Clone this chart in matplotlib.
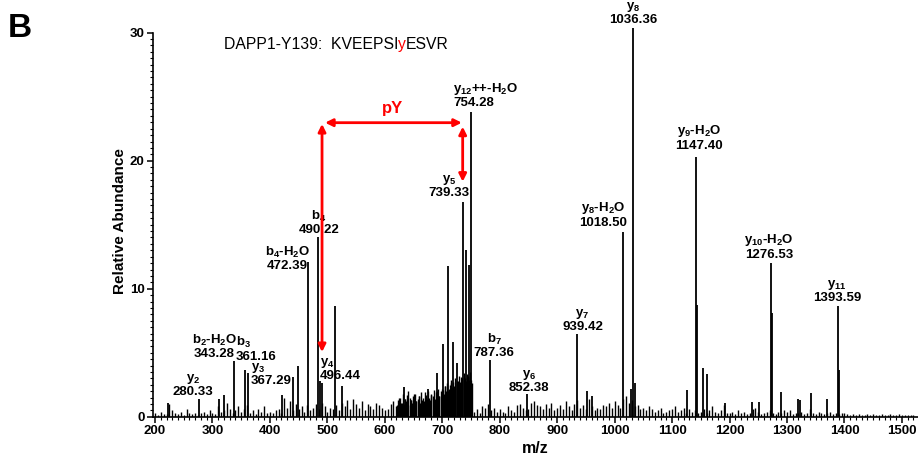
import numpy as np
import matplotlib
matplotlib.use('Agg')
import matplotlib.pyplot as plt
import matplotlib.ticker as ticker

plt.rcParams['font.family'] = ['Liberation Sans', 'DejaVu Sans']
plt.rcParams['mathtext.fontset'] = 'custom'
plt.rcParams['mathtext.rm'] = 'Liberation Sans:bold'
plt.rcParams['mathtext.bf'] = 'Liberation Sans:bold'
plt.rcParams['mathtext.it'] = 'Liberation Sans:bold'

# main fragment peaks (m/z, relative abundance)
peak_mz = [222.0, 276.0, 311.0, 320.7, 338.0, 356.7, 362.5, 421.7, 440.0, 449.0,
           467.0, 484.4, 486.5, 490.0, 513.0, 525.0, 634.0, 674.8, 691.0, 701.0,
           709.6, 717.8, 726.0, 735.5, 741.0, 747.0, 749.8, 783.0, 848.0, 935.0,
           952.6, 960.0, 1014.0, 1029.0, 1032.5, 1035.0, 1125.6, 1142.0, 1143.5, 1154.5,
           1161.5, 1192.0, 1239.0, 1252.0, 1272.0, 1273.5, 1290.0, 1319.0, 1323.0, 1342.0,
           1369.0, 1388.0, 1390.0]
peak_int = [1.07, 1.36, 1.36, 1.7, 4.35, 3.65, 3.4, 1.7, 3.1, 4.0,
            12.06, 14.0, 2.8, 2.6, 8.67, 2.4, 2.3, 2.2, 3.44, 5.7,
            11.8, 5.8, 4.2, 16.8, 13.0, 11.85, 23.8, 4.43, 1.75, 6.44,
            2.03, 1.6, 14.45, 2.2, 30.4, 2.6, 2.1, 20.3, 8.7, 3.8,
            3.3, 1.07, 1.17, 1.17, 12.0, 8.1, 1.95, 1.36, 1.3, 1.83,
            1.36, 8.65, 3.65]

# baseline noise, one value every 5 m/z from 200
noise_int = [
    0.3, 0.1, 0.4, 0.2, 0.2, 1.0, 0.5, 0.3, 0.2, 0.4, 0.1, 0.6, 0.3, 0.2, 0.3, 0.1, 0.3, 0.4, 0.2, 0.5,
    0.3, 0.2, 0.8, 0.4, 0.5, 1.1, 0.6, 0.3, 0.5, 0.8, 0.4, 0.6, 0.9, 0.3, 0.5, 0.2, 0.6, 0.4, 0.8, 0.3,
    0.4, 0.3, 0.5, 0.6, 0.3, 1.5, 0.7, 1.2, 0.5, 1.0, 0.6, 0.8, 0.4, 0.9, 0.5, 0.7, 1.0, 0.6, 1.1, 0.8,
    0.4, 0.7, 0.6, 0.9, 0.5, 1.1, 0.8, 1.3, 0.6, 1.4, 1.0, 0.7, 1.2, 0.5, 1.0, 0.8, 0.6, 1.1, 0.9, 0.7,
    0.5, 0.6, 1.0, 1.2, 0.8, 1.5, 1.1, 1.4, 2.0, 1.3, 1.8, 1.2, 1.6, 1.0, 1.9, 1.4, 1.7, 1.3, 2.0, 1.6,
    2.2, 2.4, 2.0, 2.6, 2.3, 2.8, 2.5, 3.0, 2.7, 3.2, 2.9, 0.4, 0.6, 0.3, 0.8, 0.7, 1.0, 0.5, 0.7, 0.4,
    0.6, 0.4, 0.3, 0.8, 0.5, 0.4, 0.9, 1.0, 0.7, 0.5, 0.6, 1.1, 1.2, 0.9, 0.8, 0.6, 1.0, 0.7, 1.1, 0.5,
    0.7, 0.9, 0.6, 1.2, 0.8, 0.5, 1.0, 1.3, 0.7, 0.9, 0.6, 1.4, 0.8, 0.5, 0.7, 0.6, 0.9, 0.8, 1.1, 0.7,
    1.2, 0.9, 0.7, 1.4, 1.6, 1.1, 1.3, 0.8, 0.9, 0.6, 0.7, 0.5, 0.8, 0.6, 0.4, 0.5, 0.7, 0.3, 0.4, 0.5,
    0.6, 0.8, 0.4, 0.5, 0.7, 0.3, 0.6, 0.4, 0.5, 0.3, 0.4, 0.6, 0.3, 0.5, 0.8, 0.4, 0.3, 0.5, 0.9, 0.3,
    0.3, 0.4, 0.2, 0.5, 0.3, 0.4, 0.2, 0.3, 0.6, 0.7, 0.4, 0.2, 0.3, 0.4, 0.5, 0.3, 0.2, 0.4, 0.3, 0.5,
    0.4, 0.5, 0.2, 0.3, 0.3, 0.4, 0.2, 0.3, 0.6, 0.3, 0.2, 0.4, 0.3, 0.2, 0.3, 0.4, 0.2, 0.3, 0.2, 0.3,
    0.3, 0.2, 0.1, 0.2, 0.1, 0.2, 0.1, 0.1, 0.2, 0.1, 0.2, 0.1, 0.1, 0.2, 0.1, 0.1, 0.2, 0.1, 0.1, 0.2,
    0.1, 0.1, 0.1, 0.1, 0.1]
noise_mz = np.arange(200, 1525, 5)

# dense cluster 620-752, one value every 2 m/z from 621
cluster_int = [
    0.9, 1.3, 0.7, 1.5, 1.1, 1.8, 1.0, 1.4, 1.2, 1.7, 0.9, 1.5, 1.3, 1.1, 1.6, 1.0, 1.8, 1.2, 1.4, 1.6,
    1.1, 1.9, 1.3, 1.5, 1.2, 1.7, 1.4, 2.0, 1.5, 1.3, 1.8, 1.6, 2.1, 1.4, 1.9, 1.7, 2.2, 1.6, 2.0, 1.8,
    2.1, 1.8, 2.4, 2.0, 2.6, 2.2, 2.5, 2.9, 2.3, 2.7, 2.4, 3.0, 2.6, 2.8, 3.2, 2.7, 3.1, 2.9, 3.4, 3.0,
    2.8, 3.3, 3.1, 2.9, 3.5, 2.6]
cluster_mz = np.arange(621, 752, 2)

# fragment labels: line1, line2, text x (m/z), text bottom (abundance), alignment
label_l1 = [r'y$_\mathbf{2}$', r'b$_\mathbf{2}$-H$_\mathbf{2}$O', r'b$_\mathbf{3}$', r'y$_\mathbf{3}$',
            r'b$_\mathbf{4}$-H$_\mathbf{2}$O', r'b$_\mathbf{4}$', r'y$_\mathbf{4}$', r'y$_\mathbf{5}$',
            r'y$_\mathbf{12}$++-H$_\mathbf{2}$O', r'b$_\mathbf{7}$', r'y$_\mathbf{6}$', r'y$_\mathbf{7}$',
            r'y$_\mathbf{8}$-H$_\mathbf{2}$O', r'y$_\mathbf{8}$', r'y$_\mathbf{9}$-H$_\mathbf{2}$O',
            r'y$_\mathbf{10}$-H$_\mathbf{2}$O', r'y$_\mathbf{11}$']
label_l2 = ['280.33', '343.28', '361.16', '367.29', '472.39', '490.22', '496.44', '739.33',
            '754.28', '787.36', '852.38', '939.42', '1018.50', '1036.36', '1147.40',
            '1276.53', '1393.59']
label_x = [266.7, 302.7, 341.0, 366.6, 430.7, 485.5, 487.0, 712.0,
           719.3, 790.0, 851.0, 944.0, 980.0, 1032.0, 1147.0, 1269.0, 1387.0]
label_y = [1.46, 4.43, 4.2, 2.3, 11.3, 14.1, 2.7, 17.0,
           24.0, 4.5, 1.77, 6.5, 14.7, 30.5, 20.7, 12.2, 8.8]
label_ha = ['center', 'center', 'left', 'left', 'center', 'center', 'left', 'center',
            'left', 'center', 'center', 'center', 'center', 'center', 'center', 'center', 'center']

fig = plt.figure(figsize=(9.18, 4.58), dpi=100)
ax = fig.add_axes([153 / 918, 41.3 / 458, 765 / 918, 390.4 / 458])

ax.vlines(noise_mz, 0, noise_int, color='black', lw=1.0)
ax.vlines(cluster_mz, 0, cluster_int, color='black', lw=1.0)
ax.vlines(peak_mz, 0, peak_int, color='black', lw=1.3, clip_on=False)

for l1, l2, x, y, ha in zip(label_l1, label_l2, label_x, label_y, label_ha):
    ax.text(x, y, l1 + '\n' + l2, ha=ha, va='bottom', multialignment=ha,
            fontsize=9.5, fontweight='bold', linespacing=1.05, clip_on=False)

# red arrows showing the pY mass shift
arrow = dict(arrowstyle='<|-|>', color='red', lw=2, mutation_scale=11, shrinkA=0, shrinkB=0)
ax.annotate('', xy=(490.7, 5.05), xytext=(490.7, 22.87), arrowprops=arrow)
ax.annotate('', xy=(496.0, 22.97), xytext=(734.0, 22.97), arrowprops=arrow)
ax.annotate('', xy=(735.5, 18.36), xytext=(735.5, 22.66), arrowprops=arrow)
ax.text(614, 24.1, 'pY', color='red', fontsize=12, fontweight='bold', ha='center', va='center')

# peptide title with the phospho-tyrosine in red
t1 = ax.text(320, 29.04, 'DAPP1-Y139:  KVEEPSI', fontsize=11.3, va='center', ha='left')
t2 = ax.annotate('y', xy=(1, 0.5), xycoords=t1, va='center', ha='left',
                 fontsize=11.3, color='red')
ax.annotate('ESVR', xy=(1, 0.5), xycoords=t2, va='center', ha='left', fontsize=11.3)

ax.set_xlim(196.5, 1528)
ax.set_ylim(0, 30.5)
ax.spines['top'].set_visible(False)
ax.spines['right'].set_visible(False)
ax.spines['left'].set_bounds(0, 30)
ax.spines['left'].set_linewidth(1.2)
ax.spines['bottom'].set_linewidth(1.2)

ax.xaxis.set_major_locator(ticker.MultipleLocator(100))
ax.xaxis.set_minor_locator(ticker.MultipleLocator(10))
ax.yaxis.set_major_locator(ticker.FixedLocator([0, 10, 20, 30]))
ax.yaxis.set_minor_locator(ticker.FixedLocator(np.arange(0, 30.01, 0.5)))
ax.tick_params(which='major', length=4, width=1.1, labelsize=9.5, pad=2)
ax.tick_params(which='minor', length=2.2, width=0.8)
for lab in ax.get_xticklabels() + ax.get_yticklabels():
    lab.set_fontweight('bold')

ax.set_xlabel('m/z', fontsize=11.5, fontweight='bold', labelpad=3)
ax.set_ylabel('Relative Abundance', fontsize=11, fontweight='bold', labelpad=2)

fig.text(8 / 918, 1 - 37 / 458, 'B', fontsize=24, fontweight='bold', ha='left', va='baseline')

fig.savefig('out.png', dpi=100)
